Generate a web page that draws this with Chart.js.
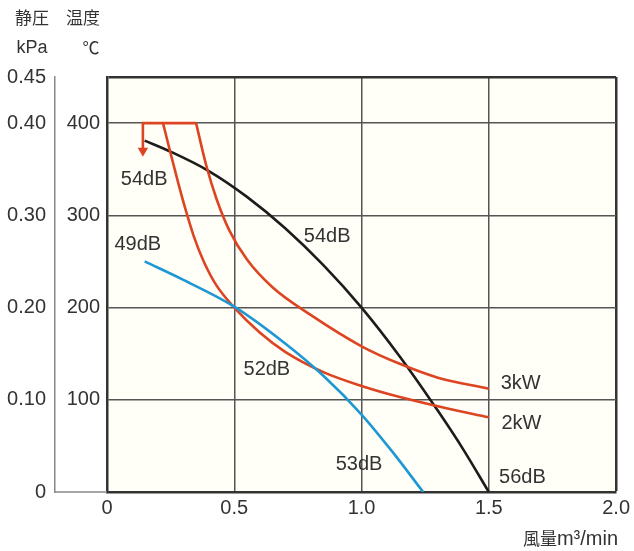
<!DOCTYPE html>
<html>
<head>
<meta charset="utf-8">
<script src="https://cdn.jsdelivr.net/npm/chart.js@4/dist/chart.umd.min.js"></script>
<style>
  html, body { margin: 0; padding: 0; background: #fff; }
</style>
</head>
<body>
<canvas id="chart-area" width="634" height="551"></canvas>
<script>
    // flow m3/min vs temperature (left inner scale)
    var blackFlow = [0.148, 0.25, 0.4, 0.55, 0.7, 0.85, 1.0, 1.15, 1.3, 1.4, 1.5];
    var blackTemp = [381, 369, 348, 320, 286, 246, 200, 147, 88, 46, 0];

    var blueFlow = [0.148, 0.3, 0.5, 0.7, 0.85, 1.0, 1.12, 1.242];
    var blueTemp = [250, 230, 201, 161, 126, 84, 44, 0];

    var kw2Flow = [0.22, 0.25, 0.28, 0.31, 0.34, 0.38, 0.43, 0.5, 0.6, 0.7, 0.85, 1.0, 1.15, 1.3, 1.5];
    var kw2Temp = [400, 367, 335, 305, 278, 250, 224, 200, 173, 152, 130, 115, 103, 93, 81];

    var kw3Flow = [0.35, 0.39, 0.43, 0.48, 0.55, 0.65, 0.8, 1.0, 1.15, 1.3, 1.5];
    var kw3Temp = [400, 354, 318, 284, 252, 222, 192, 158, 139, 124, 112];

    // the red bracket at 400 with the arrow down
    var limitFlow = [0.141, 0.141, 0.35];
    var limitTemp = [370, 400, 400];

    var flowTicks = ['0', '0.5', '1.0', '1.5', '2.0'];
    var tempTicks = ['', '100', '200', '300', '400', ''];
    var kpaTicks = ['0', '0.10', '0.20', '0.30', '0.40', '0.45'];

    var curveNotes = [
        { text: '54dB', x: 0.146, y: 339 },
        { text: '49dB', x: 0.121, y: 268 },
        { text: '54dB', x: 0.865, y: 277 },
        { text: '52dB', x: 0.628, y: 133 },
        { text: '53dB', x: 0.99, y: 29.5 },
        { text: '3kW', x: 1.625, y: 118 },
        { text: '2kW', x: 1.628, y: 74 },
        { text: '56dB', x: 1.632, y: 16 }
    ];

    var pts = function(xs, ys) {
        return xs.map(function(x, i) { return { x: x, y: ys[i] }; });
    };

    var RED = 'rgb(221, 68, 34)';
    var tickFont = { family: '"Liberation Sans", Arial, sans-serif', size: 20 };

    var extras = {
        id: 'extras',
        beforeDraw: function(chart) {
            var a = chart.chartArea, ctx = chart.ctx;
            ctx.save();
            ctx.fillStyle = '#fffff7';
            ctx.fillRect(a.left, a.top, a.right - a.left, a.bottom - a.top);
            ctx.restore();
        },
        afterDraw: function(chart) {
            var ctx = chart.ctx, a = chart.chartArea;
            var xs = chart.scales.x, ys = chart.scales.y, kpa = chart.scales.kpa;
            ctx.save();
            ctx.strokeStyle = '#888';
            ctx.lineWidth = 1.5;
            ctx.beginPath();
            ctx.moveTo(kpa.right, a.bottom);
            ctx.lineTo(a.left, a.bottom);
            ctx.stroke();

            ctx.fillStyle = '#333';
            ctx.textAlign = 'center';
            ctx.textBaseline = 'middle';
            ctx.font = '20px "Liberation Sans", Arial, sans-serif';
            curveNotes.forEach(function(n) {
                ctx.fillText(n.text, xs.getPixelForValue(n.x), ys.getPixelForValue(n.y));
            });

            ctx.font = '17px "Noto Sans CJK JP", sans-serif';
            ctx.fillText('静圧', 32, 18);
            ctx.fillText('温度', 83, 18);
            ctx.fillText('℃', 91, 48);
            ctx.font = '18px "Liberation Sans", Arial, sans-serif';
            ctx.fillText('kPa', 32, 48);

            ctx.textAlign = 'right';
            ctx.font = '20px "Liberation Sans", Arial, sans-serif';
            ctx.fillText('m³/min', 618, 539);
            var w = ctx.measureText('m³/min').width;
            ctx.font = '17px "Noto Sans CJK JP", sans-serif';
            ctx.fillText('風量', 618 - w, 539);
            ctx.restore();
        }
    };

    var lineSet = function(data, color) {
        return {
            data: data,
            borderColor: color,
            borderWidth: 2.6,
            pointRadius: 0,
            fill: false,
            cubicInterpolationMode: 'monotone'
        };
    };

    var config = {
        type: 'line',
        data: {
            datasets: [
                lineSet(pts(blueFlow, blueTemp), 'rgb(30, 152, 212)'),
                lineSet(pts(kw2Flow, kw2Temp), RED),
                lineSet(pts(kw3Flow, kw3Temp), RED),
                lineSet(pts(blackFlow, blackTemp), '#1c1c1c'),
                {
                    data: pts(limitFlow, limitTemp),
                    borderColor: RED,
                    backgroundColor: RED,
                    borderWidth: 2.6,
                    tension: 0,
                    pointStyle: 'triangle',
                    pointRotation: 180,
                    pointRadius: [6, 0, 0],
                    pointBorderWidth: 0
                }
            ]
        },
        options: {
            responsive: false,
            animation: false,
            events: [],
            layout: { padding: { top: 77, right: 15, bottom: 0, left: 0 } },
            plugins: { legend: { display: false }, tooltip: { enabled: false } },
            scales: {
                x: {
                    type: 'linear',
                    min: 0, max: 2,
                    afterFit: function(s) { s.height = 59; },
                    ticks: {
                        stepSize: 0.5,
                        padding: 4,
                        color: '#333',
                        font: tickFont,
                        maxRotation: 0,
                        callback: function(v) { return flowTicks[Math.round(v * 2)]; }
                    },
                    grid: {
                        drawTicks: false,
                        color: function(c) { return (c.tick && c.tick.value === 2) ? '#333' : '#555'; },
                        lineWidth: function(c) { return (c.tick && c.tick.value === 2) ? 2.5 : 1.5; }
                    },
                    border: { color: '#333', width: 2.5 }
                },
                y: {
                    position: 'left',
                    weight: 1,
                    min: 0, max: 450,
                    afterFit: function(s) { s.width = 52; },
                    ticks: {
                        stepSize: 100,
                        padding: 7,
                        color: '#333',
                        font: tickFont,
                        callback: function(v) { return v === 450 ? '' : tempTicks[v / 100]; }
                    },
                    grid: {
                        drawTicks: false,
                        color: function(c) { return (c.tick && c.tick.value === 450) ? '#333' : '#555'; },
                        lineWidth: function(c) { return (c.tick && c.tick.value === 450) ? 2.5 : 1.5; }
                    },
                    border: { color: '#333', width: 2.5 }
                },
                kpa: {
                    position: 'left',
                    weight: 10,
                    min: 0, max: 0.45,
                    afterFit: function(s) { s.width = 55; },
                    ticks: {
                        stepSize: 0.1,
                        padding: 9,
                        color: '#333',
                        font: tickFont,
                        callback: function(v) {
                            if (Math.abs(v - 0.45) < 1e-6) return kpaTicks[5];
                            return kpaTicks[Math.round(v * 10)];
                        }
                    },
                    grid: { display: false, drawTicks: false },
                    border: { display: true, color: '#888', width: 1.5 }
                }
            }
        },
        plugins: [extras]
    };

    var ctx = document.getElementById("chart-area").getContext("2d");
    window.myLine = new Chart(ctx, config);
</script>
</body>
</html>
